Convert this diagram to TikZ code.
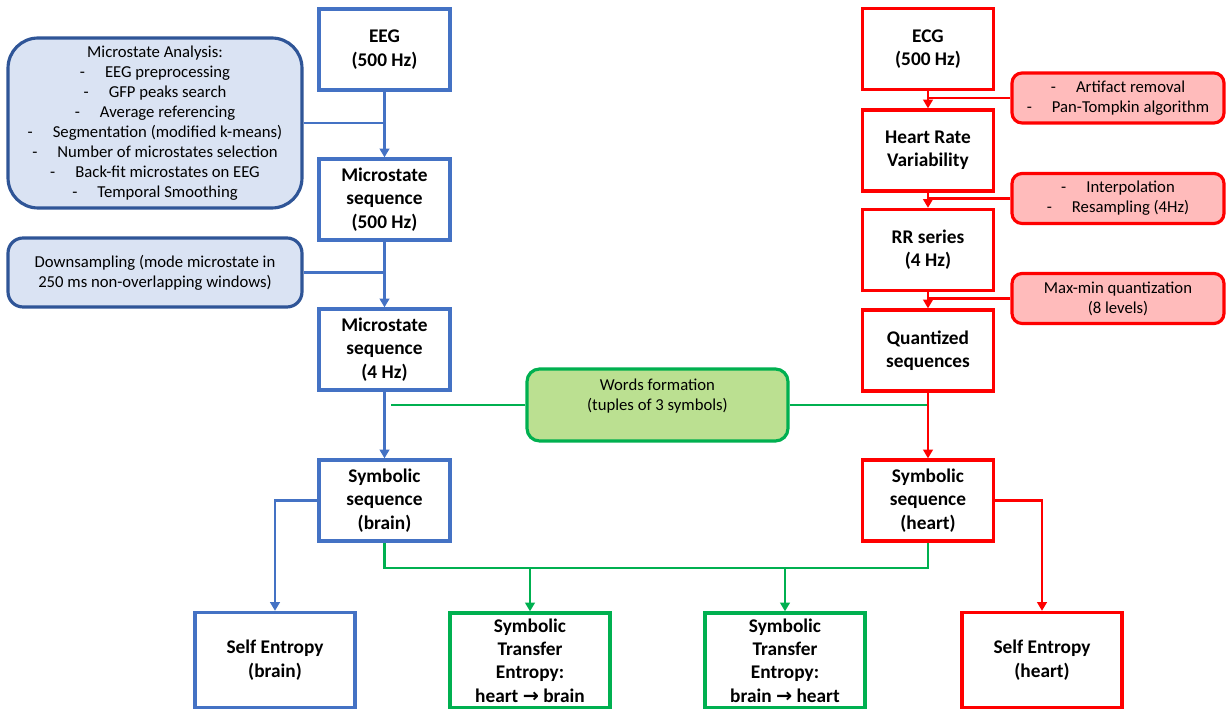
\documentclass[tikz,border=0pt]{standalone}
\usepackage{fontspec}
\setmainfont{Carlito}
\newfontfamily\arrowfont{DejaVu Sans}
\usepackage{tikz}
\usetikzlibrary{arrows.meta,positioning}
\definecolor{eegblue}{RGB}{68,114,196}
\definecolor{eegdark}{RGB}{47,85,151}
\definecolor{eegfill}{RGB}{218,227,243}
\definecolor{ecgred}{RGB}{255,0,0}
\definecolor{ecgfill}{RGB}{255,187,187}
\definecolor{wordgreen}{RGB}{0,176,80}
\definecolor{wordfill}{RGB}{187,224,145}
\tikzset{
  mainbox/.style={draw, line width=1.9pt, fill=white, align=center, inner sep=0pt, font=\fontsize{11}{13.3}\selectfont\bfseries, minimum width=2.62cm, minimum height=1.62cm},
  brainbox/.style={mainbox, draw=eegblue},
  heartbox/.style={mainbox, draw=ecgred},
  pairbox/.style={mainbox, draw=wordgreen, minimum width=3.2cm, minimum height=1.9cm},
  notebox/.style={line width=1.8pt, align=center, inner sep=0pt, font=\fontsize{9.5}{11.4}\selectfont},
  brainnote/.style={notebox, draw=eegdark, fill=eegfill, minimum width=5.88cm},
  heartnote/.style={notebox, draw=ecgred, fill=ecgfill, rounded corners=0.2cm, minimum width=4.24cm, minimum height=1.0cm},
  wordnote/.style={notebox, draw=wordgreen, fill=wordfill, rounded corners=0.25cm, minimum width=5.22cm, minimum height=1.44cm},
  brainwire/.style={draw=eegblue, line width=1.5pt},
  heartwire/.style={draw=ecgred, line width=1.5pt},
  pairwire/.style={draw=wordgreen, line width=1.5pt},
  brainline/.style={brainwire, -{Triangle[length=5pt, width=5.5pt]}},
  heartline/.style={heartwire, -{Triangle[length=5pt, width=5.5pt]}},
  pairline/.style={pairwire, -{Triangle[length=5pt, width=5.5pt]}}
}
\newcommand{\dashitem}[1]{-\hspace{1.2em}#1}
\newcommand{\toarrow}{{\arrowfont\bfseries →}}

\begin{document}
\begin{tikzpicture}[x=0.02cm, y=-0.02cm]
  \useasboundingbox (0,0) rectangle (1228,709);
  % brain column
  \node[brainbox] (eeg) at (384.5,49.5) {EEG\\(500 Hz)};
  \node[brainbox] (ms500) at (384.5,199.5) {Microstate\\sequence\\(500 Hz)};
  \node[brainbox] (ms4) at (384.5,349.5) {Microstate\\sequence\\(4 Hz)};
  \node[brainbox] (symb) at (384.5,500.5) {Symbolic\\sequence\\(brain)};
  \node[brainnote, minimum height=3.4cm, rounded corners=0.6cm] (msa) at (155,123) {Microstate Analysis:\\
    \dashitem{EEG preprocessing}\\
    \dashitem{GFP peaks search}\\
    \dashitem{Average referencing}\\
    \dashitem{Segmentation (modified k-means)}\\
    \dashitem{Number of microstates selection}\\
    \dashitem{Back-fit microstates on EEG}\\
    \dashitem{Temporal Smoothing}};
  \node[brainnote, minimum height=1.38cm, rounded corners=0.3cm] (down) at (155,272.5) {Downsampling (mode microstate in\\250 ms non-overlapping windows)};
  % heart column
  \node[heartbox] (ecg) at (928,49) {ECG\\(500 Hz)};
  \node[heartbox] (hrv) at (928,150.5) {Heart Rate\\Variability};
  \node[heartbox] (rr) at (928,250) {RR series\\(4 Hz)};
  \node[heartbox] (quant) at (928,350.5) {Quantized\\sequences};
  \node[heartbox] (symh) at (928,500.5) {Symbolic\\sequence\\(heart)};
  \node[heartnote] (artf) at (1118,98) {\dashitem{Artifact removal}\\\dashitem{Pan-Tompkin algorithm}};
  \node[heartnote] (interp) at (1118,198.5) {\dashitem{Interpolation}\\\dashitem{Resampling (4Hz)}};
  \node[heartnote] (quantz) at (1118,298.5) {Max-min quantization\\(8 levels)};
  % shared
  \node[wordnote] (words) at (657.5,405) {Words formation\\(tuples of 3 symbols)\\ };
  \node[brainbox, minimum width=3.2cm, minimum height=1.9cm] (seb) at (275,660) {Self Entropy\\(brain)};
  \node[pairbox] (steh) at (530,660.5) {Symbolic\\Transfer\\Entropy:\\heart \toarrow{} brain};
  \node[pairbox] (stbh) at (785,660.5) {Symbolic\\Transfer\\Entropy:\\brain \toarrow{} heart};
  \node[heartbox, minimum width=3.2cm, minimum height=1.9cm] (seh) at (1042,660) {Self Entropy\\(heart)};

  \draw[brainline] (eeg) -- (ms500);
  \draw[brainwire] (msa.east) -- (msa.east -| eeg.south);
  \draw[brainline] (ms500) -- (ms4);
  \draw[brainwire] (down.east) -- (down.east -| ms500.south);
  \draw[brainline] (ms4) -- (symb);
  \draw[brainline] (symb.west) -| (seb.north);

  \draw[heartline] (ecg) -- (hrv);
  \draw[heartwire] (artf.west) -- (artf.west -| ecg.south);
  \draw[heartline] (hrv) -- (rr);
  \draw[heartwire] (interp.west) -- (interp.west -| hrv.south);
  \draw[heartline] (rr) -- (quant);
  \draw[heartwire] (quantz.west) -- (quantz.west -| rr.south);
  \draw[pairwire, shorten >=0.12cm] (words.west) -- (words.west -| ms4.south);
  \draw[pairwire] (words.east) -- (words.east -| quant.south);
  \draw[heartline] (quant) -- (symh);
  \draw[heartline] (symh.east) -| (seh.north);

  \coordinate (join) at (657,568);
  \draw[pairwire] (symb.south) |- (join) -| (symh.south);
  \draw[pairline] (join -| steh.north) -- (steh.north);
  \draw[pairline] (join -| stbh.north) -- (stbh.north);
\end{tikzpicture}
\end{document}
